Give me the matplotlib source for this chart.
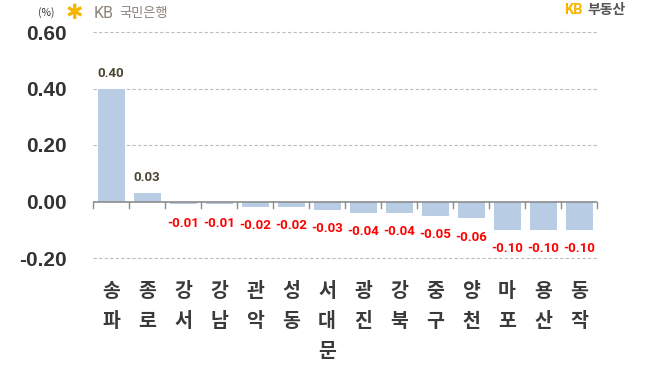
import matplotlib.pyplot as plt

# data
districts = ['송파', '종로', '강서', '강남', '관악', '성동', '서대문',
             '광진', '강북', '중구', '양천', '마포', '용산', '동작']
changes = [0.40, 0.03, -0.01, -0.01, -0.02, -0.02, -0.03,
           -0.04, -0.04, -0.05, -0.06, -0.10, -0.10, -0.10]
yticks = [-0.20, 0.00, 0.20, 0.40, 0.60]
ytick_labels = ['-0.20', '0.00', '0.20', '0.40', '0.60']

plt.rcParams['font.family'] = ['Noto Sans CJK KR', 'DejaVu Sans']

fig = plt.figure(figsize=(6.52, 3.67), dpi=100)
ax = fig.add_axes([93 / 652, 1 - 258 / 367, 504 / 652, 226 / 367])

x = list(range(len(districts)))
ax.bar(x, changes, width=0.75, color='#b8cce4', zorder=2)

ax.set_xlim(-0.5, len(districts) - 0.5)
ax.set_ylim(-0.2, 0.6)

# dashed grid, solid zero line
for v in yticks:
    if v != 0:
        ax.axhline(v, color='#bdbdbd', lw=0.8, ls=(0, (3, 2)), zorder=1, clip_on=False)
ax.axhline(0, color='#8c8c8c', lw=1.2, zorder=3)
for b in range(len(districts) + 1):
    ax.plot([b - 0.5, b - 0.5], [0, -0.022], color='#8c8c8c', lw=1.0,
            zorder=3, clip_on=False)

for s in ax.spines.values():
    s.set_visible(False)

ax.set_yticks(yticks)
ax.set_yticklabels(ytick_labels, family='Liberation Sans', fontweight='bold',
                   fontsize=15, color='#333333')
ax.tick_params(axis='y', length=0, pad=19)

ax.set_xticks(x)
ax.set_xticklabels(['\n'.join(d) for d in districts], fontweight='bold',
                   fontsize=14, color='#3a3a3a', linespacing=1.74, va='top')
ax.tick_params(axis='x', length=0, pad=17)

for xi, v in zip(x, changes):
    if v >= 0:
        ax.annotate(f'{v:.2f}', (xi, v), xytext=(0, 11), textcoords='offset points',
                    ha='center', va='center', fontsize=9.5, fontweight='bold',
                    family='Roboto', color='#4a4630')
    else:
        ax.annotate(f'{v:.2f}', (xi, v), xytext=(0, -13.5), textcoords='offset points',
                    ha='center', va='center', fontsize=9.5, fontweight='bold',
                    family='Roboto', color='#ff0000')

# header texts
fig.text(38 / 652, 1 - 13 / 367, '(%)', fontsize=7.5, color='#333333',
         ha='left', va='center')
fig.text(66 / 652, 1 - 13 / 367, '✱', family='DejaVu Sans', fontsize=15,
         color='#f7b500', ha='left', va='center')
fig.text(94 / 652, 1 - 13 / 367, 'KB', family='Roboto', fontsize=11.5,
         color='#8a8278', ha='left', va='center')
fig.text(119 / 652, 1 - 13 / 367, '국민은행', fontsize=9.5,
         color='#8a8278', ha='left', va='center')
fig.text(564 / 652, 1 - 10 / 367, 'KB', family='Roboto', fontsize=10.5,
         fontweight='bold', color='#f7b500', ha='left', va='center')
fig.text(587 / 652, 1 - 10 / 367, '부동산', fontsize=10, fontweight='bold',
         color='#555555', ha='left', va='center')

fig.savefig('out.png', dpi=100)
